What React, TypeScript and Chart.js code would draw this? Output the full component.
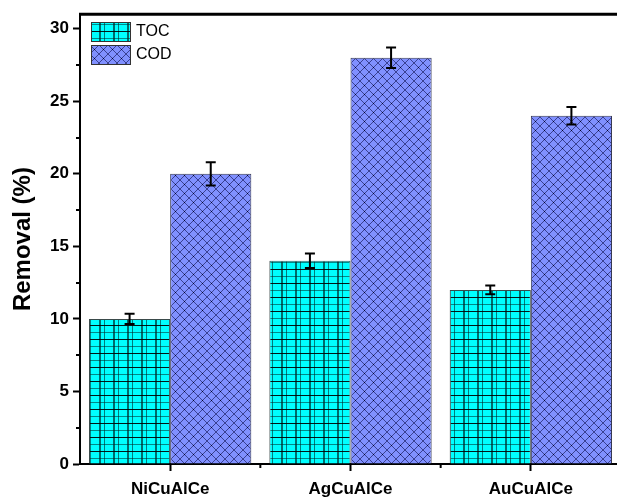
import React, { useEffect, useRef } from "react";
import { Chart, registerables } from "chart.js";

Chart.register(...registerables);

const categories = ["NiCuAlCe", "AgCuAlCe", "AuCuAlCe"];
const tocValues = [10, 14, 12];
const tocErrors = [0.35, 0.5, 0.3];
const codValues = [20, 28, 24];
const codErrors = [0.8, 0.7, 0.6];
const yTickValues = [0, 5, 10, 15, 20, 25, 30];
const yMinorValues = [2.5, 7.5, 12.5, 17.5, 22.5, 27.5];

const FONT = "'Liberation Sans', Arial, sans-serif";

function makeTocPattern(): CanvasPattern | string {
  const s = 14;
  const c = document.createElement("canvas");
  c.width = s;
  c.height = s;
  const g = c.getContext("2d");
  if (!g) return "#00ffff";
  g.fillStyle = "#00ffff";
  g.fillRect(0, 0, s, s);
  g.fillStyle = "rgba(0,60,60,0.75)";
  g.fillRect(1, 0, 2, s);
  g.fillStyle = "rgba(0,40,40,0.6)";
  g.fillRect(6, 0, 1, s);
  g.fillStyle = "rgba(0,0,0,0.9)";
  g.fillRect(0, 3, s, 1);
  g.fillStyle = "rgba(0,40,40,0.55)";
  g.fillRect(0, 10, s, 1);
  return g.createPattern(c, "repeat") || "#00ffff";
}

function makeCodPattern(): CanvasPattern | string {
  const s = 9;
  const c = document.createElement("canvas");
  c.width = s;
  c.height = s;
  const g = c.getContext("2d");
  if (!g) return "#7d8cff";
  g.fillStyle = "#8090ff";
  g.fillRect(0, 0, s, s);
  g.strokeStyle = "rgba(40,45,120,0.8)";
  g.lineWidth = 1;
  g.beginPath();
  g.moveTo(-1, -1);
  g.lineTo(s + 1, s + 1);
  g.moveTo(s + 1, -1);
  g.lineTo(-1, s + 1);
  g.stroke();
  g.fillStyle = "rgba(0,0,30,0.9)";
  g.fillRect(Math.floor(s / 2), Math.floor(s / 2), 1, 1);
  return g.createPattern(c, "repeat") || "#7d8cff";
}

export default function App() {
  const ref = useRef<HTMLCanvasElement | null>(null);

  useEffect(() => {
    if (!ref.current) return;
    const tocPat = makeTocPattern();
    const codPat = makeCodPattern();
    const errs = [tocErrors, codErrors];

    const extras = {
      id: "extras",
      afterDatasetsDraw(chart: any) {
        const ctx = chart.ctx;
        const ys = chart.scales.y;
        const xs = chart.scales.x;
        const area = chart.chartArea;
        ctx.save();
        ctx.strokeStyle = "#000";
        ctx.lineWidth = 2;
        chart.data.datasets.forEach((ds: any, di: number) => {
          const meta = chart.getDatasetMeta(di);
          meta.data.forEach((el: any, i: number) => {
            const v = ds.data[i];
            const e = errs[di][i];
            const yt = ys.getPixelForValue(v + e);
            const yb = ys.getPixelForValue(v - e);
            ctx.beginPath();
            ctx.moveTo(el.x, yt);
            ctx.lineTo(el.x, yb);
            ctx.moveTo(el.x - 5, yt);
            ctx.lineTo(el.x + 5, yt);
            ctx.moveTo(el.x - 5, yb);
            ctx.lineTo(el.x + 5, yb);
            ctx.stroke();
          });
        });
        ctx.lineWidth = 3;
        ctx.beginPath();
        ctx.moveTo(area.left - 1, area.top);
        ctx.lineTo(area.right + 10, area.top);
        ctx.stroke();
        ctx.lineWidth = 2;
        yMinorValues.forEach((v) => {
          const y = Math.round(ys.getPixelForValue(v));
          ctx.beginPath();
          ctx.moveTo(area.left, y);
          ctx.lineTo(area.left - 4, y);
          ctx.stroke();
        });
        for (let i = 0; i < categories.length - 1; i++) {
          const x = (xs.getPixelForValue(i) + xs.getPixelForValue(i + 1)) / 2;
          ctx.beginPath();
          ctx.moveTo(x, area.bottom);
          ctx.lineTo(x, area.bottom + 4);
          ctx.stroke();
        }
        const items = [
          { label: "TOC", fill: tocPat, y: 22 },
          { label: "COD", fill: codPat, y: 45 },
        ];
        items.forEach((it) => {
          ctx.fillStyle = it.fill;
          ctx.fillRect(91, it.y, 40, 20);
          ctx.strokeStyle = "#333";
          ctx.lineWidth = 1;
          ctx.strokeRect(91.5, it.y + 0.5, 39, 19);
          ctx.fillStyle = "#000";
          ctx.font = `16px ${FONT}`;
          ctx.textBaseline = "middle";
          ctx.textAlign = "left";
          ctx.fillText(it.label, 136, it.y + 10);
        });
        ctx.restore();
      },
    };

    const chart = new Chart(ref.current, {
      type: "bar",
      data: {
        labels: categories,
        datasets: [
          {
            label: "TOC",
            data: tocValues,
            backgroundColor: tocPat as any,
            borderColor: "#3a4a4a",
            borderWidth: 1,
            categoryPercentage: 0.9,
            barPercentage: 1.0,
          },
          {
            label: "COD",
            data: codValues,
            backgroundColor: codPat as any,
            borderColor: "#333650",
            borderWidth: 1,
            categoryPercentage: 0.9,
            barPercentage: 1.0,
          },
        ],
      },
      options: {
        responsive: false,
        animation: false,
        layout: { padding: { left: 0, right: 9, top: 13, bottom: 0 } },
        plugins: {
          legend: { display: false },
          tooltip: { enabled: false },
        },
        scales: {
          x: {
            type: "category",
            offset: true,
            grid: {
              offset: false,
              drawOnChartArea: false,
              drawTicks: true,
              tickLength: 7,
              tickWidth: 2,
              tickColor: "#000",
            },
            border: { display: true, color: "#000", width: 2 },
            ticks: {
              color: "#000",
              padding: 8,
              font: { family: FONT, size: 17, weight: "bold" },
            },
            afterFit(scale: any) {
              scale.height = 34;
            },
          },
          y: {
            type: "linear",
            min: 0,
            max: 31,
            afterBuildTicks(scale: any) {
              scale.ticks = yTickValues.map((v) => ({ value: v }));
            },
            grid: {
              drawOnChartArea: false,
              drawTicks: true,
              tickLength: 7,
              tickWidth: 2,
              tickColor: "#000",
            },
            border: { display: true, color: "#000", width: 2 },
            ticks: {
              color: "#000",
              padding: 4,
              font: { family: FONT, size: 17, weight: "bold" },
            },
            title: {
              display: true,
              text: "Removal (%)",
              color: "#000",
              padding: { top: 9, bottom: 0 },
              font: { family: FONT, size: 24, weight: "bold" },
            },
            afterFit(scale: any) {
              scale.width = 80;
            },
          },
        },
      },
      plugins: [extras],
    } as any);
    return () => chart.destroy();
  }, []);

  return (
    <div
      style={{
        position: "absolute",
        left: 0,
        top: 0,
        width: 617,
        height: 498,
        overflow: "hidden",
        background: "#fff",
      }}
    >
      <canvas ref={ref} width={630} height={498} style={{ width: 630, height: 498, display: "block" }} />
    </div>
  );
}
